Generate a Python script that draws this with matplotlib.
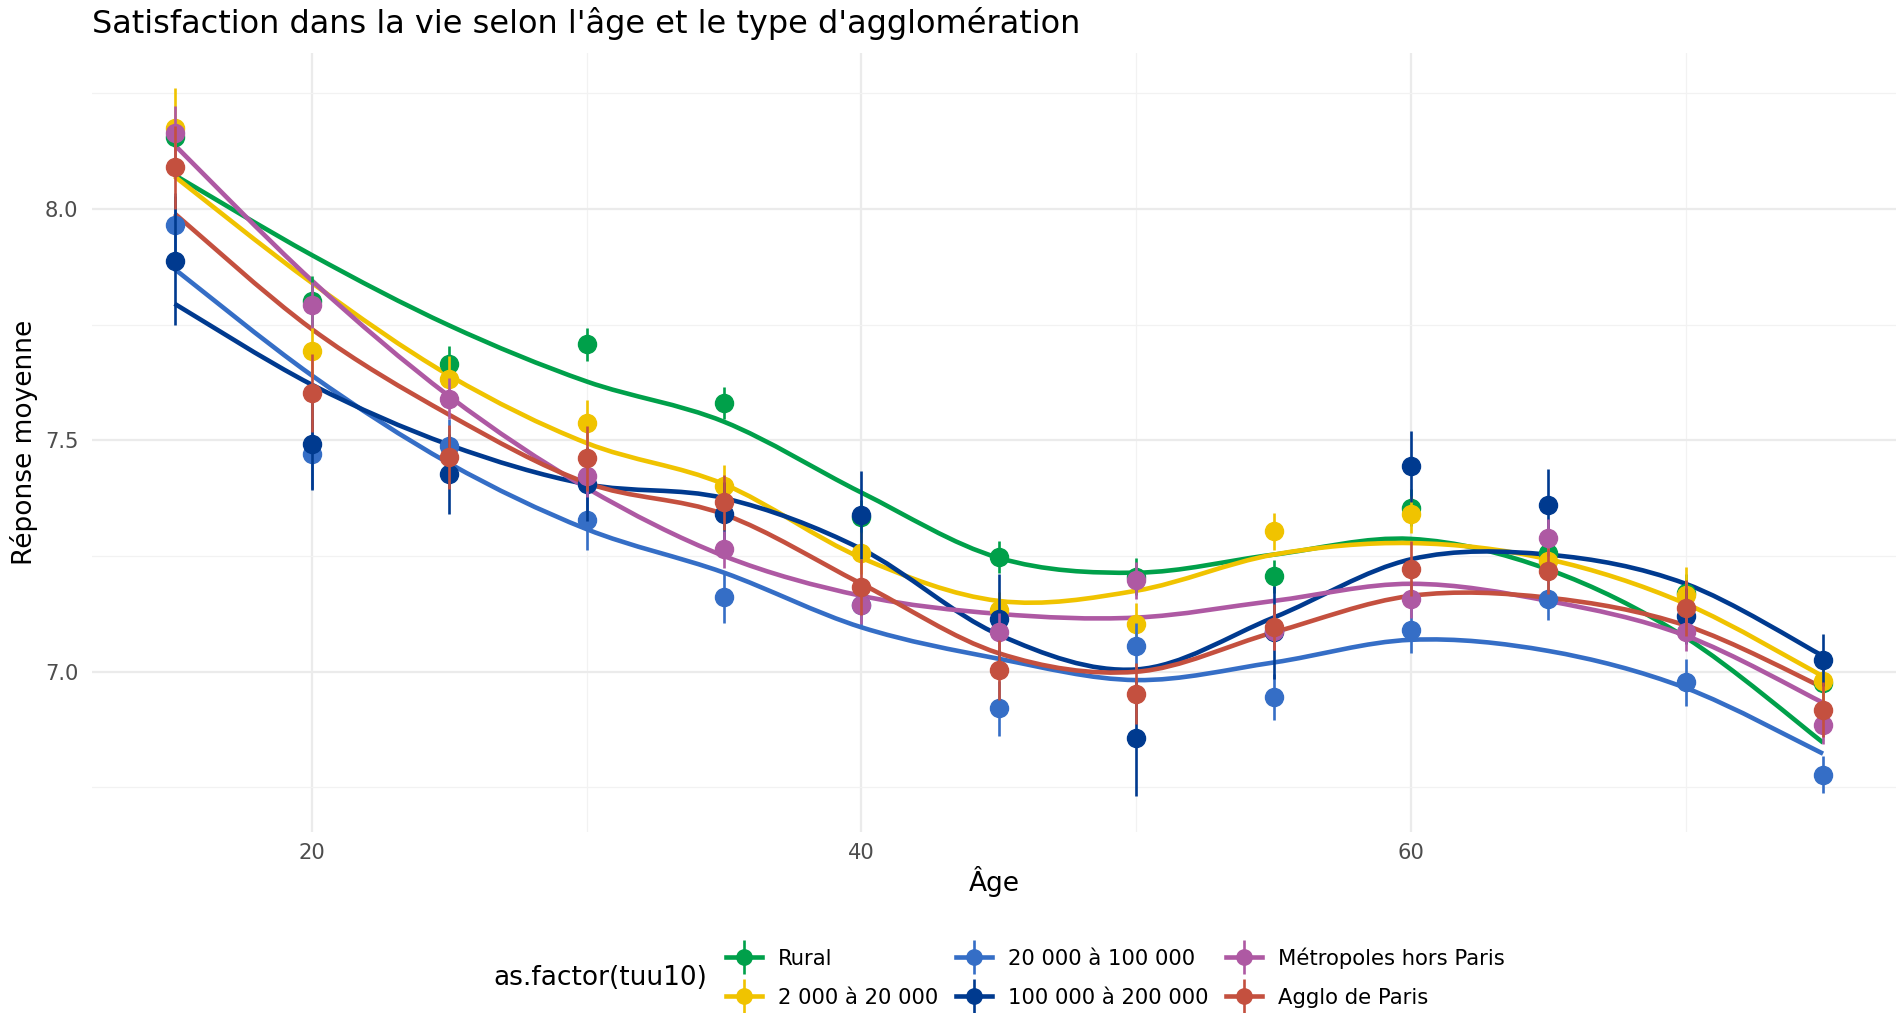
import matplotlib
matplotlib.use("Agg")
from matplotlib import pyplot as plt
from matplotlib.path import Path
from matplotlib.patches import PathPatch
from matplotlib.lines import Line2D

ages = [15, 20, 25, 30, 35, 40, 45, 50, 55, 60, 65, 70, 75]

groups = ["Rural", "2 000 à 20 000", "20 000 à 100 000",
          "100 000 à 200 000", "Métropoles hors Paris", "Agglo de Paris"]
colors = ["#00A04A", "#F0C300", "#356EC6", "#003A8F", "#AE59A3", "#C4503F"]

# mean answer per age group (points)
mean_rural = [8.155, 7.800, 7.664, 7.707, 7.580, 7.335, 7.248, 7.205, 7.206, 7.354, 7.256, 7.171, 6.975]
mean_2k = [8.175, 7.692, 7.632, 7.538, 7.401, 7.256, 7.133, 7.104, 7.304, 7.340, 7.240, 7.166, 6.980]
mean_20k = [7.965, 7.470, 7.487, 7.328, 7.162, 7.145, 6.921, 7.056, 6.946, 7.090, 7.157, 6.977, 6.778]
mean_100k = [7.888, 7.492, 7.427, 7.405, 7.340, 7.338, 7.115, 6.856, 7.085, 7.444, 7.361, 7.120, 7.025]
mean_metro = [8.163, 7.793, 7.590, 7.423, 7.265, 7.144, 7.086, 7.198, 7.087, 7.157, 7.290, 7.085, 6.885]
mean_paris = [8.090, 7.602, 7.464, 7.461, 7.366, 7.183, 7.004, 6.953, 7.096, 7.223, 7.217, 7.138, 6.918]

# half width of the error bars
err_rural = [0.040, 0.055, 0.040, 0.035, 0.035, 0.035, 0.035, 0.040, 0.035, 0.040, 0.035, 0.040, 0.040]
err_2k = [0.085, 0.055, 0.050, 0.048, 0.045, 0.045, 0.040, 0.045, 0.040, 0.040, 0.040, 0.060, 0.050]
err_20k = [0.070, 0.076, 0.060, 0.065, 0.056, 0.050, 0.060, 0.050, 0.050, 0.050, 0.045, 0.050, 0.040]
err_100k = [0.140, 0.100, 0.087, 0.080, 0.070, 0.095, 0.097, 0.125, 0.100, 0.077, 0.076, 0.060, 0.056]
err_metro = [0.060, 0.050, 0.045, 0.045, 0.040, 0.040, 0.040, 0.040, 0.040, 0.040, 0.040, 0.040, 0.040]
err_paris = [0.090, 0.085, 0.070, 0.070, 0.060, 0.060, 0.065, 0.065, 0.050, 0.060, 0.050, 0.060, 0.060]

# smoothed curve read at each age
smooth_rural = [8.073, 7.900, 7.748, 7.627, 7.540, 7.387, 7.246, 7.214, 7.253, 7.287, 7.221, 7.074, 6.847]
smooth_2k = [8.070, 7.840, 7.640, 7.494, 7.405, 7.246, 7.153, 7.175, 7.253, 7.278, 7.243, 7.147, 6.990]
smooth_20k = [7.870, 7.640, 7.450, 7.308, 7.214, 7.096, 7.028, 6.982, 7.020, 7.069, 7.045, 6.965, 6.823]
smooth_100k = [7.795, 7.620, 7.490, 7.405, 7.375, 7.265, 7.080, 7.005, 7.117, 7.243, 7.253, 7.190, 7.034]
smooth_metro = [8.138, 7.845, 7.595, 7.397, 7.250, 7.164, 7.125, 7.117, 7.153, 7.190, 7.153, 7.078, 6.933]
smooth_paris = [7.990, 7.740, 7.555, 7.408, 7.340, 7.190, 7.040, 7.000, 7.085, 7.164, 7.160, 7.100, 6.966]

means = [mean_rural, mean_2k, mean_20k, mean_100k, mean_metro, mean_paris]
errs = [err_rural, err_2k, err_20k, err_100k, err_metro, err_paris]
smooths = [smooth_rural, smooth_2k, smooth_20k, smooth_100k, smooth_metro, smooth_paris]


def smooth_path(xs, ys):
    # catmull-rom through the read values, drawn as cubic bezier segments
    pts = list(zip(xs, ys))
    verts = [pts[0]]
    codes = [Path.MOVETO]
    n = len(pts)
    for i in range(n - 1):
        p0 = pts[max(i - 1, 0)]
        p1 = pts[i]
        p2 = pts[i + 1]
        p3 = pts[min(i + 2, n - 1)]
        c1 = (p1[0] + (p2[0] - p0[0]) / 6, p1[1] + (p2[1] - p0[1]) / 6)
        c2 = (p2[0] - (p3[0] - p1[0]) / 6, p2[1] - (p3[1] - p1[1]) / 6)
        verts += [c1, c2, p2]
        codes += [Path.CURVE4] * 3
    return Path(verts, codes)


fig = plt.figure(figsize=(18.96, 10.13), dpi=100)
ax = fig.add_axes([0.0486, 0.179, 0.9564, 0.7686])

for k in range(len(groups)):
    patch = PathPatch(smooth_path(ages, smooths[k]), fill=False,
                      edgecolor=colors[k], lw=3.3, zorder=2, capstyle="butt")
    ax.add_patch(patch)

for k in range(len(groups)):
    ax.errorbar(ages, means[k], yerr=errs[k], fmt="o", color=colors[k],
                ms=13, elinewidth=1.9, capsize=0, zorder=3 + k)

lo = min(m - e for mm, ee in zip(means, errs) for m, e in zip(mm, ee))
hi = max(m + e for mm, ee in zip(means, errs) for m, e in zip(mm, ee))
pad = (hi - lo) * 0.05
ax.set_ylim(lo - pad, hi + pad)
ax.set_xlim(12, 78)

ax.set_xticks([20, 40, 60])
ax.set_xticks([30, 50, 70], minor=True)
ax.set_yticks([7.0, 7.5, 8.0])
ax.set_yticks([6.75, 7.25, 7.75, 8.25], minor=True)
ax.set_yticklabels(["7.0", "7.5", "8.0"])
ax.grid(which="major", color="#EBEBEB", lw=1.6)
ax.grid(which="minor", color="#F2F2F2", lw=0.9)
ax.set_axisbelow(True)
for s in ax.spines.values():
    s.set_visible(False)
ax.tick_params(which="both", length=0, labelsize=15.2, labelcolor="#4D4D4D")
ax.tick_params(axis="x", pad=8)
ax.tick_params(axis="y", pad=10)

fig.text(0.0486, 1 - 23 / 1013, "Satisfaction dans la vie selon l'âge et le type d'agglomération",
         fontsize=23, va="center", ha="left")
fig.text(0.5245, 1 - 881 / 1013, "Âge", fontsize=19, ha="center", va="center")
fig.text(24 / 1896, 0.179 + 0.7686 / 2, "Réponse moyenne", fontsize=19, rotation=90,
         ha="center", va="center")

handles = []
for k in range(len(groups)):
    h1 = Line2D([], [], color=colors[k], lw=3.3, marker="o", ms=11)
    h2 = Line2D([], [], color=colors[k], marker="|", ms=24, mew=1.9, ls="")
    handles.append((h1, h2))

fig.text(493 / 1896, 0.035, "as.factor(tuu10)", fontsize=19, ha="left", va="center")
fig.legend(handles, groups, loc="center left", bbox_to_anchor=(726 / 1896, 0.035),
           ncol=3, frameon=False, fontsize=15.2, handlelength=1.7, handletextpad=0.75,
           columnspacing=0.85, labelspacing=0.9, borderpad=0, borderaxespad=0)

plt.savefig("out.png", dpi=100)
